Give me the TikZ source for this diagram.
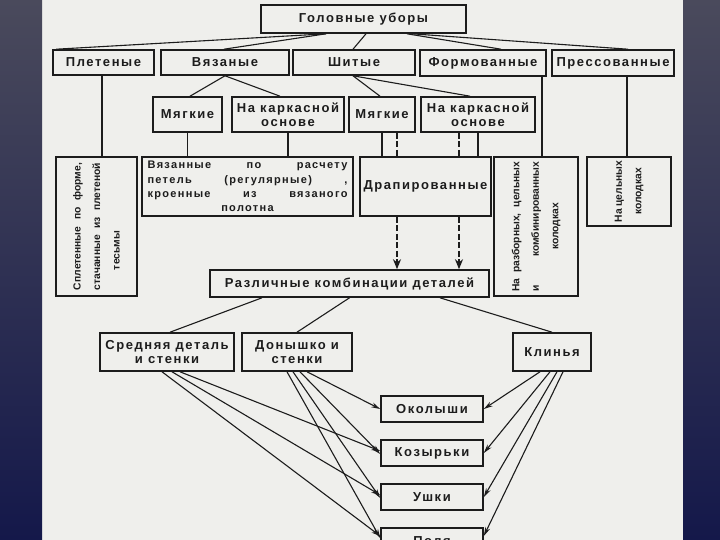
\documentclass[tikz,border=0pt]{standalone}
\usepackage{fontspec}
\setmainfont{Liberation Sans}
\newfontfamily\lsfont{Liberation Sans}[LetterSpace=12]
\usetikzlibrary{arrows.meta}
\definecolor{pagebg}{HTML}{EFEFEC}
\definecolor{navytop}{HTML}{4A4A5C}
\definecolor{navybot}{HTML}{14184A}
\definecolor{ink}{HTML}{1C1C1C}
\begin{document}
\begin{tikzpicture}[x=1pt,y=-1pt,
  tb/.style={draw=ink, line width=1.6pt, fill=pagebg, inner sep=0pt, align=center, text=ink,
    font=\lsfont\bfseries\fontsize{13}{14.5}\selectfont},
  rb/.style={tb, rotate=90, font=\bfseries\fontsize{10.3}{19.5}\selectfont},
  conn/.style={draw=ink, line width=1.1pt},
  arr/.style={conn, -{Stealth[length=9pt,width=5pt]}},
  dsh/.style={draw=ink, line width=2.4pt, dash pattern=on 6pt off 2.5pt},
  dsharr/.style={dsh, -{Stealth[length=10pt,width=8pt]}}
]
\useasboundingbox (0,0) rectangle (720,540);
\clip (0,0) rectangle (720,540);
\fill[pagebg] (0,0) rectangle (720,540);
\shade[top color=navytop,bottom color=navybot] (0,0) rectangle (42,540);
\shade[top color=navytop,bottom color=navybot] (683,0) rectangle (720,540);

% row 0 and 1
\node[tb, minimum width=205pt, minimum height=28pt] (top) at (363.5,19) {Головные уборы};
\node[tb, minimum width=101pt, minimum height=25pt] (plet) at (103.5,62.5) {Плетеные};
\node[tb, minimum width=128pt, minimum height=25pt] (vyaz) at (225,62.5) {Вязаные};
\node[tb, minimum width=122pt, minimum height=25pt] (shit) at (354,62.5) {Шитые};
\node[tb, minimum width=126pt, minimum height=26pt] (form) at (483,63) {Формованные};
\node[tb, minimum width=122pt, minimum height=26pt] (press) at (613,63) {Прессованные};

% row 2
\node[tb, minimum width=69pt, minimum height=35pt] (m1) at (187.5,114.5) {Мягкие};
\node[tb, minimum width=112pt, minimum height=35pt] (k1) at (288,114.5) {На каркасной\\основе};
\node[tb, minimum width=66pt, minimum height=35pt] (m2) at (382,114.5) {Мягкие};
\node[tb, minimum width=114pt, minimum height=35pt] (k2) at (478,114.5) {На каркасной\\основе};

% row 3
\node[rb, minimum width=139pt, minimum height=81pt] (splet) at (96.5,226.5)
  {\makebox[127pt][s]{Сплетенные по форме,}\\\makebox[127pt][s]{стачанные из плетеной}\\\makebox[127pt][l]{\hspace{20pt}тесьмы}};
\node[tb, minimum width=211pt, minimum height=59pt, font=\lsfont\bfseries\fontsize{11}{14.3}\selectfont] (vyazp) at (247.5,186.5)
  {\makebox[200pt][s]{Вязанные по расчету}\\\makebox[200pt][s]{петель (регулярные) ,}\\\makebox[200pt][s]{кроенные из вязаного}\\полотна};
\node[tb, minimum width=131pt, minimum height=59pt] (drap) at (425.5,186.5) {Драпированные};
\node[rb, minimum width=139pt, minimum height=84pt] (razb) at (536,226.5)
  {\makebox[130pt][s]{На разборных, цельных}\\\makebox[130pt][s]{и комбинированных}\\колодках};
\node[rb, minimum width=69pt, minimum height=84pt] (cel) at (629,191.5)
  {На цельных\\колодках};

% row 4
\node[tb, minimum width=279pt, minimum height=27pt] (comb) at (349.5,283.5) {Различные комбинации деталей};

% row 5
\node[tb, minimum width=134pt, minimum height=38pt] (sred) at (167,352) {Средняя деталь\\и стенки};
\node[tb, minimum width=110pt, minimum height=38pt] (don) at (297,352) {Донышко и\\стенки};
\node[tb, minimum width=78pt, minimum height=38pt] (klin) at (552,352) {Клинья};

% row 6
\node[tb, minimum width=102pt, minimum height=26pt] (okol) at (432,409) {Околыши};
\node[tb, minimum width=102pt, minimum height=26pt] (koz) at (432,453) {Козырьки};
\node[tb, minimum width=102pt, minimum height=26pt] (ush) at (432,497) {Ушки};
\node[tb, minimum width=102pt, minimum height=26pt] (pol) at (432,541) {Поля};

% top connectors
\draw[conn] ([xshift=-37.5pt]top.south) -- ([xshift=4pt]plet.north west);
\draw[conn] ([xshift=-37.5pt]top.south) -- ([xshift=-1pt]vyaz.north);
\draw[conn] ([xshift=2.5pt]top.south) -- ([xshift=-1pt]shit.north);
\draw[conn] ([xshift=43.5pt]top.south) -- ([xshift=18pt]form.north);
\draw[conn] ([xshift=48.5pt]top.south) -- ([xshift=15pt]press.north);

\draw[conn] (vyaz.south) -- ([xshift=2.5pt]m1.north);
\draw[conn] (vyaz.south) -- ([xshift=-8pt]k1.north);
\draw[conn] ([xshift=-1pt]shit.south) -- ([xshift=-2pt]m2.north);
\draw[conn] ([xshift=-1pt]shit.south) -- ([xshift=-8pt]k2.north);

% vertical connectors
\coordinate (cp) at ([xshift=-1.5pt]plet.south);
\draw[conn] (cp) -- (cp |- splet.east);
\draw[conn] (m1.south) -- (m1.south |- vyazp.north);
\draw[conn] (k1.south) -- (k1.south |- vyazp.north);
\draw[conn] (m2.south) -- (m2.south |- drap.north);
\draw[conn] (k2.south) -- (k2.south |- drap.north);
\coordinate (cf) at ([xshift=59pt]form.south);
\draw[conn] (cf) -- (cf |- razb.east);
\coordinate (cq) at ([xshift=14pt]press.south);
\draw[conn] (cq) -- (cq |- cel.east);

% dashed
\coordinate (d1) at ([xshift=15pt]m2.south);
\coordinate (d2) at ([xshift=-19pt]k2.south);
\draw[dsh] (d1) -- (d1 |- drap.north);
\draw[dsh] (d2) -- (d2 |- drap.north);
\draw[dsharr] (d1 |- drap.south) -- (d1 |- comb.north);
\draw[dsharr] (d2 |- drap.south) -- (d2 |- comb.north);

% comb to row 5
\draw[conn] ([xshift=-87.5pt]comb.south) -- ([xshift=3pt]sred.north);
\draw[conn] (comb.south) -- (don.north);
\draw[conn] ([xshift=90.5pt]comb.south) -- (klin.north);

% arrows
\draw[arr] ([xshift=13pt]sred.south) -- ([yshift=2pt]koz.west);
\draw[arr] ([xshift=5pt]sred.south) -- ([yshift=2pt]ush.west);
\draw[arr] ([xshift=-5pt]sred.south) -- ([yshift=5pt]pol.west);
\draw[arr] ([xshift=10pt]don.south) -- (okol.west);
\draw[arr] ([xshift=3pt]don.south) -- ([yshift=-1pt]koz.west);
\draw[arr] ([xshift=-4pt]don.south) -- ([yshift=-1pt]ush.west);
\draw[arr] ([xshift=-10pt]don.south) -- ([yshift=3pt]pol.west);
\draw[arr] ([xshift=-12pt]klin.south) -- (okol.east);
\draw[arr] ([xshift=-2pt]klin.south) -- (koz.east);
\draw[arr] ([xshift=5pt]klin.south) -- (ush.east);
\draw[arr] ([xshift=11pt]klin.south) -- ([yshift=5pt]pol.east);
\end{tikzpicture}
\end{document}
